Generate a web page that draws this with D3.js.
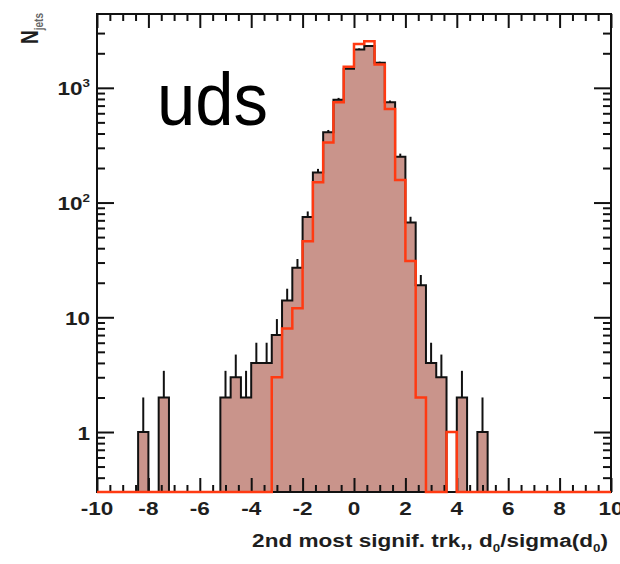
<!DOCTYPE html>
<html>
<head>
<meta charset="utf-8">
<script src="https://cdn.jsdelivr.net/npm/d3@7/dist/d3.min.js"></script>
<style>
  body { margin: 0; background: #fff; }
  text { font-family: "Liberation Sans", Arial, sans-serif; }
</style>
</head>
<body>
<svg id="chart" width="620" height="564"></svg>
<script>
// binning: 50 bins of width 0.4 from -10 to 10
var binLow = -10, binWidth = 0.4;

// data (black, with errors) and simulation (red outline), counts per bin
var dataCounts = [0,0,0,0,1, 0,2,0,0,0,
                  0,0,2,3,2, 4,4,7,14,27,
                  75,183,409,789,1470, 2160,2310,1650,748,251,
                  67,19,4,3,0, 2,0,1,0,0,
                  0,0,0,0,0, 0,0,0,0,0];
var mcCounts   = [0,0,0,0,0, 0,0,0,0,0,
                  0,0,0,0,0, 0,0,3,8,12,
                  46,150,334,748,1530, 2415,2545,1600,655,157,
                  31,2,0,0,1, 0,0,0,0,0,
                  0,0,0,0,0, 0,0,0,0,0];

// axis ticks and labels
var xMajor = [-10, -8, -6, -4, -2, 0, 2, 4, 6, 8, 10];
var xLabels = ["-10", "-8", "-6", "-4", "-2", "0", "2", "4", "6", "8", "10"];
var yMajor = [1, 10, 100, 1000];
var yLabels = ["1", "10", "10", "10"];
var ySups = ["", "", "2", "3"];

var margin = {top: 14, right: 9, bottom: 72, left: 97};
var W = 620 - margin.left - margin.right,
    H = 564 - margin.top - margin.bottom;
var sx = 1.22; // labels in the picture are a bit wider than tall

var svg = d3.select("#chart");
var g = svg.append("g")
    .attr("transform", "translate(" + margin.left + "," + margin.top + ")");

var x = d3.scaleLinear().domain([-10, 10]).range([0, W]);
var y = d3.scaleLog().domain([0.3, 4400]).range([H, 0]).clamp(true);

function yv(n) { return n > 0 ? y(n) : H; }

// turn counts into step points (left edge, count)
function steps(counts) {
  var pts = counts.map(function(c, i) { return [binLow + i * binWidth, c]; });
  pts.push([binLow + counts.length * binWidth, counts[counts.length - 1]]);
  return pts;
}

var area = d3.area()
    .x(function(d) { return x(d[0]); })
    .y0(H)
    .y1(function(d) { return yv(d[1]); })
    .curve(d3.curveStepAfter);
var line = d3.line()
    .x(function(d) { return x(d[0]); })
    .y(function(d) { return yv(d[1]); })
    .curve(d3.curveStepAfter);

// filled data histogram
g.append("path")
    .attr("d", area(steps(dataCounts)))
    .attr("fill", "#c9948b");
g.append("path")
    .attr("d", line(steps(dataCounts)))
    .attr("fill", "none")
    .attr("stroke", "#111")
    .attr("stroke-width", 2);

// upper error bars
g.selectAll(".err")
  .data(dataCounts.map(function(c, i) { return {c: c, i: i}; }).filter(function(d) { return d.c > 0; }))
  .enter()
    .append("line")
    .attr("class", "err")
    .attr("x1", function(d) { return x(binLow + (d.i + 0.5) * binWidth); })
    .attr("x2", function(d) { return x(binLow + (d.i + 0.5) * binWidth); })
    .attr("y1", function(d) { return yv(d.c); })
    .attr("y2", function(d) { return y(d.c + Math.sqrt(d.c)); })
    .attr("stroke", "#111")
    .attr("stroke-width", 2);

// ticks, all pointing inside the frame
var xMinor = d3.range(-10, 10.01, 0.5).filter(function(v) { return xMajor.indexOf(v) < 0; });
var yMinor = [];
[0.1, 1, 10, 100, 1000].forEach(function(dec) {
  d3.range(2, 10).forEach(function(m) {
    var v = dec * m;
    if (v > 0.35 && v < 3500) yMinor.push(v);
  });
});

function addAxis(axis, tr) {
  var a = g.append("g").attr("transform", tr).call(axis);
  a.select(".domain").remove();
  a.selectAll("line").attr("stroke", "#111").attr("stroke-width", 2);
}
addAxis(d3.axisBottom(x).tickValues(xMajor).tickSize(-14).tickFormat(""), "translate(0," + H + ")");
addAxis(d3.axisBottom(x).tickValues(xMinor).tickSize(-7).tickFormat(""), "translate(0," + H + ")");
addAxis(d3.axisTop(x).tickValues(xMajor).tickSize(-14).tickFormat(""), "translate(0,0)");
addAxis(d3.axisTop(x).tickValues(xMinor).tickSize(-7).tickFormat(""), "translate(0,0)");
addAxis(d3.axisLeft(y).tickValues(yMajor).tickSize(-17).tickFormat(""), "translate(0,0)");
addAxis(d3.axisLeft(y).tickValues(yMinor).tickSize(-8).tickFormat(""), "translate(0,0)");
addAxis(d3.axisRight(y).tickValues(yMajor).tickSize(-17).tickFormat(""), "translate(" + W + ",0)");
addAxis(d3.axisRight(y).tickValues(yMinor).tickSize(-8).tickFormat(""), "translate(" + W + ",0)");

// frame
g.append("rect")
    .attr("width", W).attr("height", H)
    .attr("fill", "none")
    .attr("stroke", "#111")
    .attr("stroke-width", 2);

// simulation outline on top
g.append("path")
    .attr("d", line(steps(mcCounts)))
    .attr("fill", "none")
    .attr("stroke", "#ff3a12")
    .attr("stroke-width", 2.5);

// tick labels
xMajor.forEach(function(v, i) {
  svg.append("text")
      .attr("transform", "translate(" + (margin.left + x(v)) + ",515) scale(" + sx + ",1)")
      .attr("text-anchor", "middle")
      .attr("font-size", 18.5)
      .attr("font-weight", "bold")
      .attr("fill", "#1e1e1e")
      .text(xLabels[i]);
});
yMajor.forEach(function(v, i) {
  var t = svg.append("text")
      .attr("transform", "translate(90," + (margin.top + y(v) + 7.5) + ") scale(" + sx + ",1)")
      .attr("text-anchor", "end")
      .attr("font-size", 18.5)
      .attr("font-weight", "bold")
      .attr("fill", "#1e1e1e");
  t.append("tspan").text(yLabels[i]);
  if (ySups[i]) {
    t.append("tspan").attr("dy", -8).attr("font-size", 11).text(ySups[i]);
  }
});

// axis titles
var xt = svg.append("text")
    .attr("transform", "translate(608,547) scale(" + sx + ",1)")
    .attr("text-anchor", "end")
    .attr("font-size", 18.5)
    .attr("font-weight", "bold")
    .attr("fill", "#1e1e1e");
xt.append("tspan").text("2nd most signif. trk,, d");
xt.append("tspan").attr("dy", 5).attr("font-size", 11).text("0");
xt.append("tspan").attr("dy", -5).text("/sigma(d");
xt.append("tspan").attr("dy", 5).attr("font-size", 11).text("0");
xt.append("tspan").attr("dy", -5).text(")");

var yt = svg.append("text")
    .attr("transform", "translate(38,13) scale(" + sx + ",1) rotate(-90)")
    .attr("text-anchor", "end")
    .attr("font-size", 19)
    .attr("font-weight", "bold")
    .attr("fill", "#1e1e1e");
yt.append("tspan").text("N");
yt.append("tspan").attr("dy", 4).attr("font-size", 10).attr("fill", "#666").text("jets");

// sample label
svg.append("text")
    .attr("x", 157).attr("y", 125)
    .attr("font-family", "Lato, 'Open Sans', sans-serif")
    .attr("font-size", 75)
    .attr("textLength", 111)
    .attr("lengthAdjust", "spacingAndGlyphs")
    .attr("fill", "#000")
    .text("uds");
</script>
</body>
</html>
